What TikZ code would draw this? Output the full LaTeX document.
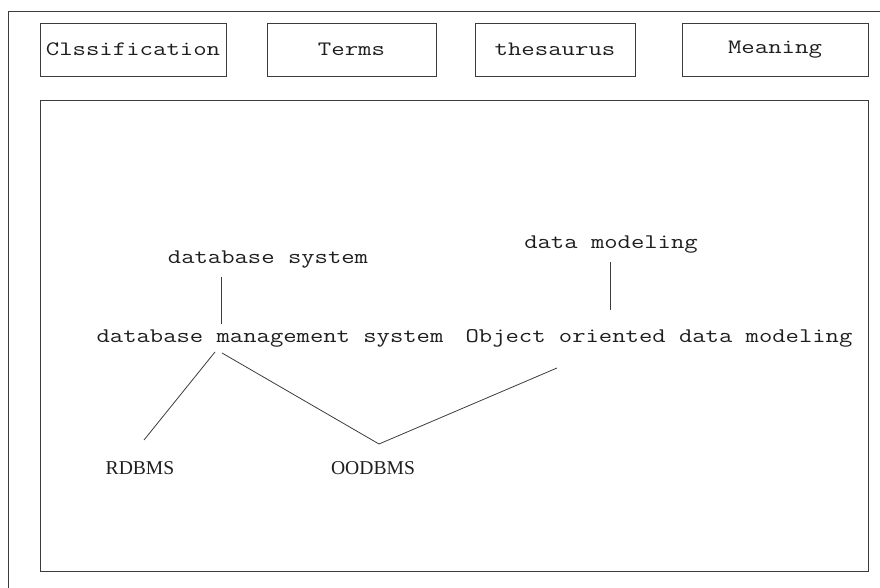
\documentclass[tikz,border=0pt]{standalone}
\usepackage{fontspec}
\usepackage{xcolor}
\usepackage{tikz}
\usetikzlibrary{positioning, calc}
\newfontfamily\tabfont[FakeStretch=1.27]{Latin Modern Mono}
\newfontfamily\termfont[FakeStretch=1.245]{Latin Modern Mono}
\newfontfamily\capsfont{Liberation Serif}
\definecolor{mydark}{RGB}{30,30,30}
\definecolor{myline}{RGB}{60,60,60}
\tikzset{
  tabbox/.style={rectangle, draw=myline, line width=0.9pt,
    minimum height=53pt, inner sep=0pt, text=mydark,
    font=\tabfont\fontsize{20.5}{24}\selectfont},
  term/.style={anchor=base, inner sep=0pt, text=mydark,
    font=\termfont\fontsize{20.8}{24}\selectfont},
  dbms/.style={anchor=base, inner sep=0pt, text=mydark,
    font=\capsfont\fontsize{19.6}{23}\selectfont},
  link/.style={draw=myline, line width=0.8pt}
}
\begin{document}
\begin{tikzpicture}[x=1pt, y=1pt]
  \useasboundingbox (0,0) rectangle (880,588);

  % Outer frame (cut off on the right and bottom)
  \draw[myline, line width=0.9pt] (8,0) -- (8,577) -- (880,577);

  % Tabs
  \node[tabbox, minimum width=186pt] (classif) at (133,538.5) {Clssification};
  \node[tabbox, minimum width=169pt] (terms) at (351.5,538.5) {Terms};
  \node[tabbox, minimum width=160pt] (thes) at (555,538.5) {thesaurus};
  \node[tabbox, minimum width=186pt] (meaning) at (775,538.5) {Meaning};

  % Panel
  \node[draw=myline, line width=0.9pt, minimum width=828pt, minimum height=471pt, inner sep=0pt] (panel) at (454,252.5) {};

  % Terms
  \node[term] (dbsys) at (268,324) {database system};
  \node[term] (dbmsys) at (270,245) {database management system};
  \node[term] (datamod) at (611,339) {data modeling};
  \node[term] (oodm) at (659,245) {Object oriented data modeling};
  \node[dbms] (rdbms) at (140,113) {RDBMS};
  \node[dbms] (oodbms) at (373,113) {OODBMS};

  % Links
  \draw[link] ([shift={(-47,-13)}]dbsys.base) -- ([shift={(-49,19)}]dbmsys.base);
  \draw[link] ([shift={(-1,-13)}]datamod.base) -- ([shift={(-49,33)}]oodm.base);
  \draw[link] ([shift={(-55,-9)}]dbmsys.base) -- ([shift={(4,35)}]rdbms.base);
  \draw[link] ([shift={(-48,-10)}]dbmsys.base) -- ([shift={(6,31)}]oodbms.base);
  \draw[link] ([shift={(6,31)}]oodbms.base) -- ([shift={(-102,-25)}]oodm.base);
\end{tikzpicture}
\end{document}
